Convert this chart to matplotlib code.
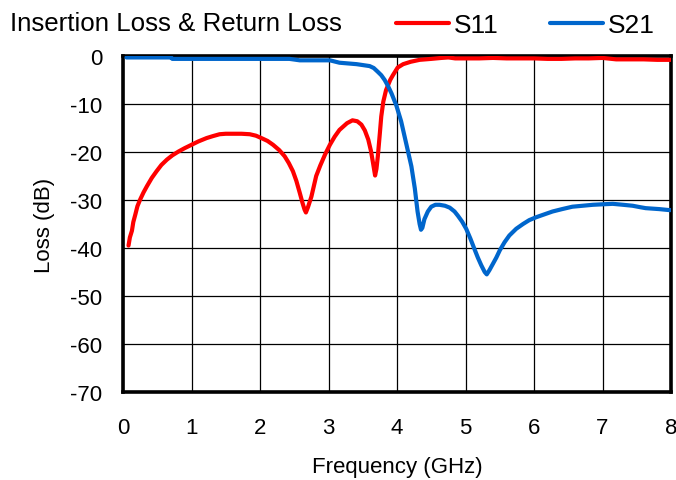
import matplotlib
matplotlib.use("Agg")
import matplotlib.pyplot as plt

plt.rcParams['font.family'] = ['Liberation Sans', 'DejaVu Sans']
plt.rcParams['axes.unicode_minus'] = False

# ---- data ----
s11_freq = [0.08, 0.10, 0.13, 0.15, 0.18, 0.21, 0.25, 0.30, 0.35, 0.42, 0.49, 0.56,
            0.64, 0.72, 0.81, 0.90, 1.00, 1.10, 1.22, 1.31, 1.41, 1.50, 1.61, 1.73,
            1.85, 1.94, 2.02, 2.11, 2.19, 2.28, 2.36, 2.42, 2.48, 2.53, 2.58, 2.62,
            2.65, 2.67, 2.70, 2.75, 2.82, 2.88, 2.95, 3.02, 3.09, 3.16, 3.27, 3.35,
            3.42, 3.48, 3.53, 3.58, 3.62, 3.65, 3.68, 3.70, 3.72, 3.75, 3.77, 3.80,
            3.84, 3.90, 3.94, 4.01, 4.09, 4.20, 4.33, 4.50, 4.65, 4.75, 4.85, 5.00,
            5.20, 5.40, 5.60, 5.80, 6.00, 6.20, 6.40, 6.60, 6.80, 7.00, 7.20, 7.40,
            7.60, 7.80, 8.00]
s11_db = [-39.5, -37.8, -36.4, -34.6, -33.0, -31.3, -29.9, -28.4, -27.1, -25.4, -24.0, -22.7,
          -21.6, -20.7, -19.9, -19.2, -18.5, -17.8, -17.1, -16.7, -16.3, -16.2, -16.2, -16.2,
          -16.3, -16.6, -17.1, -17.7, -18.5, -19.6, -20.9, -22.3, -24.0, -26.0, -28.5, -30.6,
          -32.0, -32.6, -31.5, -29.3, -25.0, -22.8, -20.5, -18.5, -16.8, -15.4, -14.0, -13.4,
          -13.6, -14.3, -15.5, -17.4, -19.8, -22.3, -24.9, -23.5, -20.9, -16.0, -12.6, -9.5,
          -7.1, -5.0, -4.0, -2.4, -1.7, -1.2, -0.8, -0.6, -0.4, -0.3, -0.5, -0.5,
          -0.5, -0.4, -0.5, -0.5, -0.5, -0.6, -0.6, -0.5, -0.5, -0.4, -0.7, -0.7,
          -0.7, -0.8, -0.8]

s21_freq = [0.05, 0.70, 0.72, 1.50, 2.43, 2.58, 3.02, 3.16, 3.41, 3.60, 3.66, 3.72,
            3.77, 3.82, 3.87, 3.92, 3.99, 4.06, 4.14, 4.21, 4.26, 4.30, 4.33, 4.35,
            4.37, 4.40, 4.45, 4.50, 4.56, 4.62, 4.70, 4.77, 4.84, 4.89, 4.95, 5.01,
            5.07, 5.13, 5.18, 5.23, 5.28, 5.31, 5.35, 5.40, 5.45, 5.50, 5.57, 5.64,
            5.74, 5.84, 5.93, 6.03, 6.15, 6.27, 6.41, 6.56, 6.71, 6.86, 7.00, 7.15,
            7.30, 7.44, 7.55, 7.63, 7.73, 7.83, 7.90, 7.97, 8.00]
s21_db = [-0.3, -0.3, -0.6, -0.6, -0.6, -0.9, -0.9, -1.4, -1.7, -2.1, -2.5, -3.3,
          -4.0, -5.0, -6.3, -7.8, -10.3, -13.6, -18.6, -23.0, -27.6, -32.4, -35.0, -36.2,
          -35.8, -34.0, -32.4, -31.4, -31.0, -31.0, -31.2, -31.6, -32.4, -33.3, -34.5, -36.0,
          -38.0, -40.2, -42.0, -43.6, -45.0, -45.5, -44.6, -43.3, -42.0, -40.5, -38.8, -37.4,
          -36.0, -35.0, -34.2, -33.6, -33.0, -32.4, -31.9, -31.4, -31.2, -31.0, -30.9, -30.8,
          -31.0, -31.2, -31.5, -31.7, -31.8, -31.9, -32.0, -32.1, -32.1]

x_ticks = [0, 1, 2, 3, 4, 5, 6, 7, 8]
y_ticks = [0, -10, -20, -30, -40, -50, -60, -70]
x_tick_labels = ["0", "1", "2", "3", "4", "5", "6", "7", "8"]
y_tick_labels = ["0", "-10", "-20", "-30", "-40", "-50", "-60", "-70"]

# ---- figure ----
fig = plt.figure(figsize=(6.76, 4.81), dpi=100)
ax = fig.add_axes([0.182, 0.183, 0.8106, 0.6985])

RED = "#FF0000"
BLUE = "#0066CC"

l11, = ax.plot(s11_freq, s11_db, color=RED, lw=3.0, solid_capstyle='round',
               solid_joinstyle='round', zorder=3)
l21, = ax.plot(s21_freq, s21_db, color=BLUE, lw=3.0, solid_capstyle='round',
               solid_joinstyle='round', zorder=3)

ax.set_xlim(0, 8)
ax.set_ylim(-70, 0)
ax.set_xticks(x_ticks)
ax.set_xticklabels(x_tick_labels)
ax.set_yticks(y_ticks)
ax.set_yticklabels(y_tick_labels)
ax.grid(True, color='black', lw=0.9, zorder=1)
ax.set_axisbelow(True)
ax.tick_params(axis='both', length=0, labelsize=16)
ax.tick_params(axis='x', pad=18)
ax.tick_params(axis='y', pad=15)
for sp in ax.spines.values():
    sp.set_linewidth(2.6)
    sp.set_color('black')

ax.set_xlabel("Frequency (GHz)", fontsize=16, labelpad=13)
ax.set_ylabel("Loss (dB)", fontsize=16, labelpad=11)

fig.text(0.0148, 1 - 31 / 481, "Insertion Loss & Return Loss", fontsize=18.6,
         ha='left', va='baseline')

fig.legend([l11, l21], ["S11", "S21"], loc='center left',
           bbox_to_anchor=(396.0 / 676, 1 - 26 / 481), ncol=2, frameon=False,
           fontsize=19, handlelength=2.0, handletextpad=0.2, columnspacing=1.95,
           borderpad=0, borderaxespad=0)

fig.savefig("out.png", dpi=100)
